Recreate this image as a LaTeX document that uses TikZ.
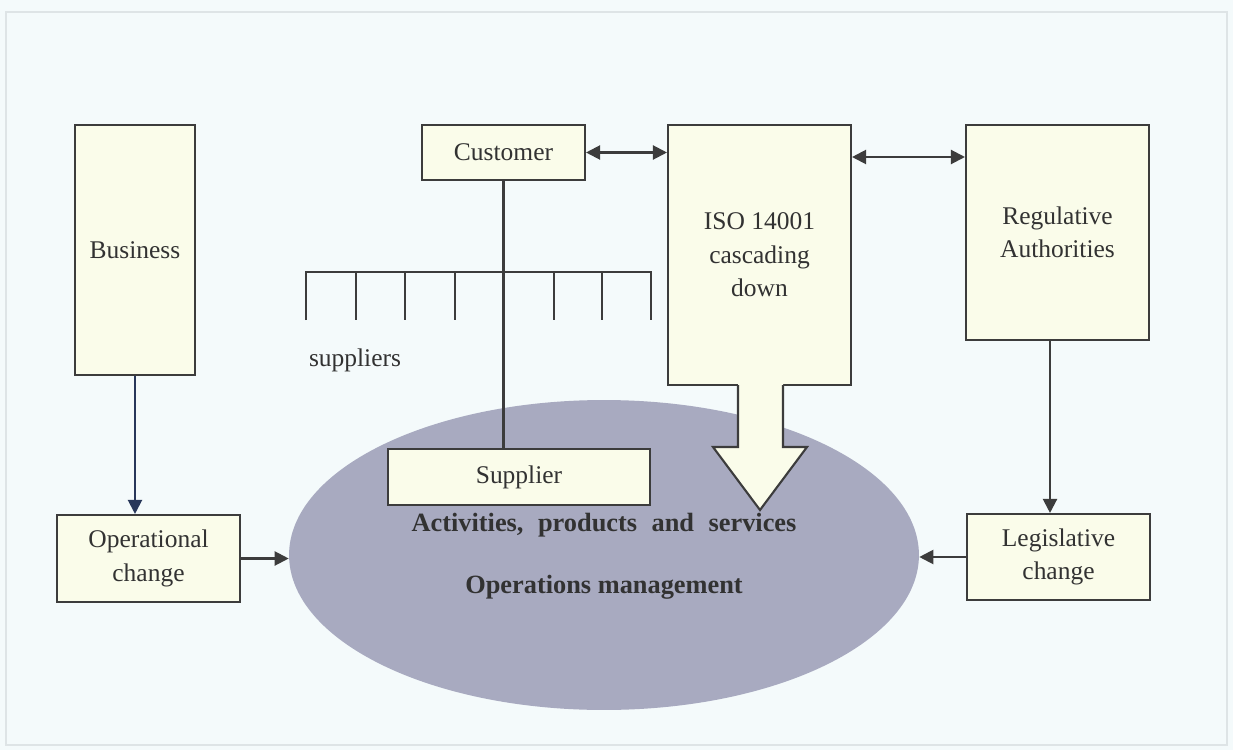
\documentclass[tikz,border=0pt]{standalone}
\usepackage{fontspec}
\setmainfont{Liberation Serif}
\usetikzlibrary{arrows.meta,shapes.geometric}
\definecolor{bgcol}{RGB}{244,250,251}
\definecolor{framecol}{RGB}{222,228,230}
\definecolor{boxfill}{RGB}{250,252,234}
\definecolor{opsfill}{RGB}{168,170,192}
\definecolor{linecol}{RGB}{60,60,60}
\definecolor{textcol}{RGB}{50,50,50}
\definecolor{bluelink}{RGB}{40,55,90}
\begin{document}
\begin{tikzpicture}[x=0.02cm, y=-0.02cm, >={Triangle[length=8pt,width=8pt]},
    every node/.style={font=\fontsize{14.5}{19}\selectfont, text=textcol, align=center},
    box/.style={shape=rectangle, draw=linecol, fill=boxfill, line width=1.2pt, inner sep=0pt},
    link/.style={draw=linecol, line width=1.2pt},
    boldtext/.style={font=\fontsize{15}{19}\selectfont\bfseries}]
            % Page
            \useasboundingbox[fill=bgcol] (0,0) rectangle (1233,750);
            \draw[framecol, line width=0.8pt] (6,12) rectangle (1227,745);
            % Ellipse
            \node[ellipse, fill=opsfill, minimum width=12.6cm, minimum height=6.2cm] (ops) at (604,555) {};
            % Nodes
            \node[box, minimum width=2.4cm, minimum height=5cm] (business) at (135,250) {Business};
            \node[box, minimum width=3.66cm, minimum height=1.74cm] (opchange) at (148.5,558.5) {Operational\\change};
            \node[box, minimum width=3.26cm, minimum height=1.1cm] (customer) at (503.5,152.5) {Customer};
            \node[box, minimum width=3.66cm, minimum height=5.2cm] (iso) at (759.5,255) {ISO 14001\\cascading\\down};
            \node[box, minimum width=3.66cm, minimum height=4.3cm] (regauth) at (1057.5,232.5) {Regulative\\Authorities};
            \node[box, minimum width=3.66cm, minimum height=1.72cm] (legis) at (1058.5,557) {Legislative\\change};
            \node[box, minimum width=5.24cm, minimum height=1.12cm] (supplier) at (519,477) {Supplier};
            \node (suppliers) at (355,360) {suppliers};
            \node[boldtext] (activities) at (604,525) {Activities,\hspace{0.55em}products\hspace{0.55em}and\hspace{0.55em}services};
            \node[boldtext] (opsmgmt) at (604,587) {Operations management};
            % Cascading arrow
            \fill[boxfill] (738,380) -- (738,447) -- (713,447) -- (760,510) -- (807,447) -- (783,447) -- (783,380) -- cycle;
            \draw[link, line join=miter] (738,385) -- (738,447) -- (713,447) -- (760,510) -- (807,447) -- (783,447) -- (783,385);
            % Supplier comb
            \draw[link] (306,320) -- (306,272) -- (651,272) -- (651,320);
            \foreach \x in {356,405,455,554,602}
                \draw[link] (\x,272) -- (\x,320);
            \draw[link] (customer.south) -- (supplier.north -| customer.south);
            % Edges
            \draw[link, <->] (customer.east) -- (customer.east -| iso.west);
            \draw[link, <->] (iso.east |- 0,157) -- (regauth.west |- 0,157);
            \draw[link, draw=bluelink, ->] (business.south) -- (business.south |- opchange.north);
            \draw[link, ->] (regauth.south -| 1050,0) -- (legis.north -| 1050,0);
            \draw[link, ->] (opchange.east) -- (opchange.east -| ops.west);
            \draw[link, ->] (legis.west) -- (legis.west -| ops.east);
        \end{tikzpicture}
\end{document}
